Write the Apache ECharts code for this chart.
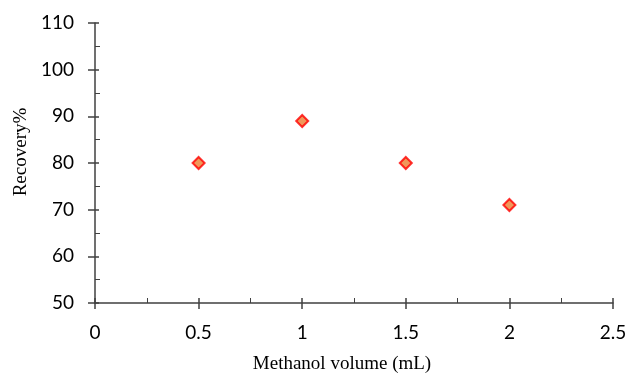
<!DOCTYPE html>
<html><head><meta charset="utf-8">
<script src="https://cdn.jsdelivr.net/npm/echarts@6/dist/echarts.min.js"></script>
<style>html,body{margin:0;padding:0;background:#fff}#c{width:630px;height:379px}</style>
</head><body><div id="c"></div>
<script>
const volumes = [0.5, 1, 1.5, 2];
const recovery = [80, 89, 80, 71];
const xTitle = 'Methanol volume (mL)';
const yTitle = 'Recovery%';

const points = volumes.map((v, i) => [v, recovery[i]]);
const axisColor = '#404040';
const labelFont = {color: '#000', fontFamily: 'Lato', fontSize: 19};
const nameFont = {color: '#000', fontFamily: 'Liberation Serif', fontSize: 19};

const chart = echarts.init(document.getElementById('c'), null, {renderer: 'canvas'});
chart.setOption({
  animation: false,
  grid: {left: 95, top: 23, width: 518, height: 280, containLabel: false},
  xAxis: [{
    type: 'value', min: 0, max: 2.5, interval: 0.5,
    axisLine: {show: true, onZero: false, lineStyle: {color: axisColor, width: 1.5}},
    axisTick: {show: true, inside: false, length: 6, lineStyle: {color: axisColor, width: 1.5}},
    axisLabel: Object.assign({margin: 20}, labelFont),
    splitLine: {show: false},
    name: xTitle, nameLocation: 'middle', nameGap: 52,
    nameTextStyle: Object.assign({padding: [0, 24, 0, 0]}, nameFont)
  }, {
    type: 'value', min: 0, max: 2.5, interval: 0.5, position: 'bottom',
    axisLine: {show: false, onZero: false},
    axisTick: {show: true, inside: true, length: 5, lineStyle: {color: axisColor, width: 1.5}},
    minorTick: {show: true, splitNumber: 2, length: 5, lineStyle: {color: axisColor, width: 1}},
    axisLabel: {show: false}, splitLine: {show: false}
  }],
  yAxis: [{
    type: 'value', min: 50, max: 110, interval: 10,
    axisLine: {show: true, onZero: false, lineStyle: {color: axisColor, width: 1.5}},
    axisTick: {show: true, inside: false, length: 7, lineStyle: {color: axisColor, width: 1.5}},
    axisLabel: Object.assign({margin: 21}, labelFont),
    splitLine: {show: false},
    name: yTitle, nameLocation: 'middle', nameGap: 64,
    nameTextStyle: Object.assign({padding: [0, 0, 0, 22]}, nameFont)
  }, {
    type: 'value', min: 50, max: 110, interval: 10, position: 'left',
    axisLine: {show: false, onZero: false},
    axisTick: {show: true, inside: true, length: 4, lineStyle: {color: axisColor, width: 1.5}},
    minorTick: {show: true, splitNumber: 2, length: 5, lineStyle: {color: axisColor, width: 1}},
    axisLabel: {show: false}, splitLine: {show: false}
  }],
  series: [{
    type: 'scatter', data: points, symbol: 'diamond', symbolSize: 12,
    itemStyle: {color: '#ED7D31', borderColor: '#FF0000', borderWidth: 2}
  }]
});
</script></body></html>
